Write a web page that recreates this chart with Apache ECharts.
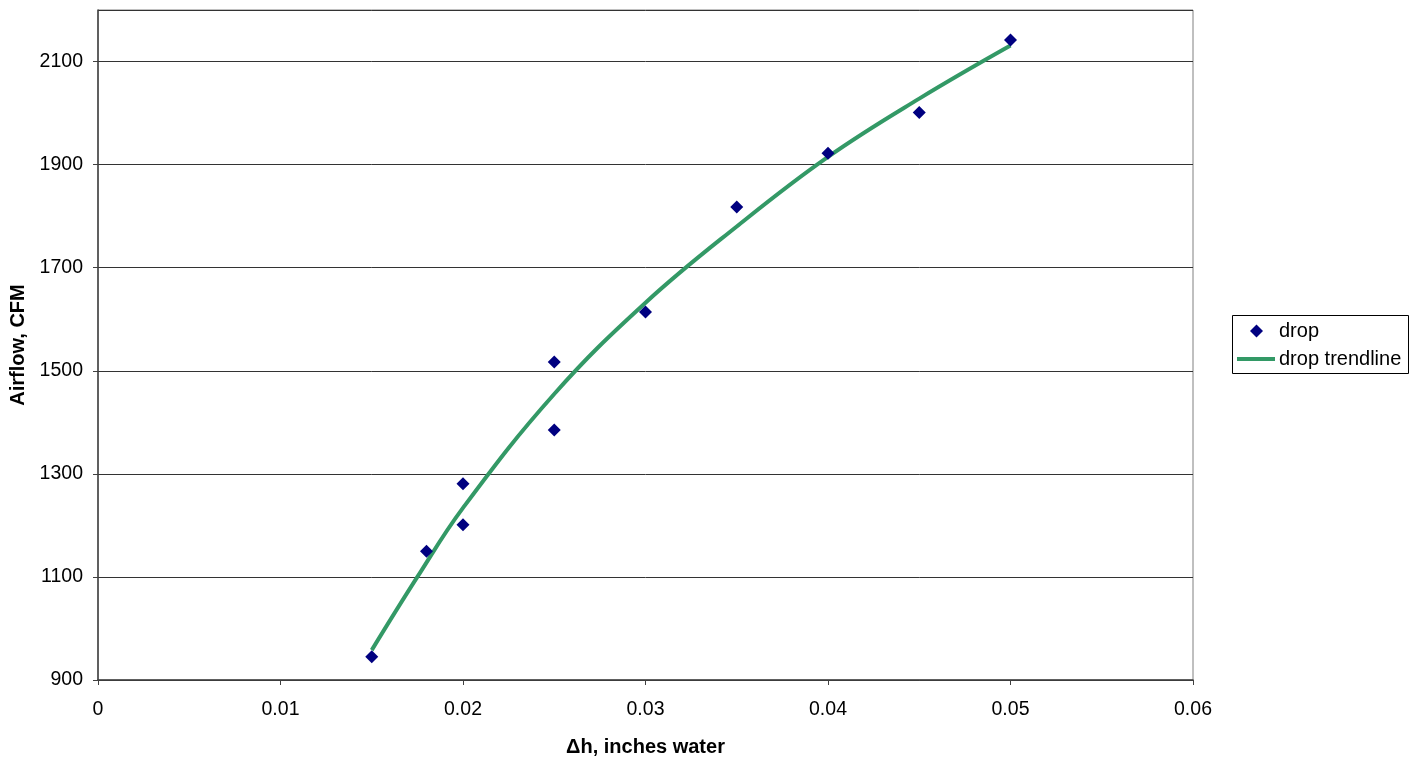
<!DOCTYPE html>
<html>
<head>
<meta charset="utf-8">
<script src="https://cdn.jsdelivr.net/npm/echarts@6/dist/echarts.min.js"></script>
<style>html,body{margin:0;padding:0;background:#fff}#c{width:1418px;height:763px}</style>
</head>
<body>
<div id="c"></div>
<script>
const dropX = [0.015, 0.018, 0.02, 0.02, 0.025, 0.025, 0.03, 0.035, 0.04, 0.045, 0.05];
const dropY = [945, 1150, 1281, 1201, 1517, 1385, 1614, 1818, 1922, 2001, 2142];
const trendX = [0.015, 0.0175, 0.02, 0.025, 0.03, 0.035, 0.04, 0.045, 0.05];
const trendY = [958, 1100, 1234, 1455, 1632, 1780, 1915, 2028, 2131];
const xTicks = [0, 0.01, 0.02, 0.03, 0.04, 0.05, 0.06];
const yTicks = [900, 1100, 1300, 1500, 1700, 1900, 2100];

const font = 'Liberation Sans, Arial, sans-serif';
const chart = echarts.init(document.getElementById('c'));
chart.setOption({
  animation: false,
  backgroundColor: '#fff',
  grid: {left: 98, right: 225, top: 10, bottom: 83, show: true, borderColor: '#808080', borderWidth: 1},
  xAxis: {
    type: 'value', min: 0, max: 0.06, interval: 0.01,
    name: 'Δh, inches water', nameLocation: 'middle', nameGap: 57,
    nameTextStyle: {fontFamily: font, fontSize: 20, fontWeight: 'bold', color: '#000'},
    axisLine: {show: true, lineStyle: {color: '#404040', width: 1.5}},
    axisTick: {show: true, length: 5, lineStyle: {color: '#404040'}},
    axisLabel: {fontFamily: font, fontSize: 19.5, color: '#000', margin: 20,
      formatter: v => { const t = xTicks.find(a => Math.abs(a - v) < 1e-9); return t === undefined ? '' : String(t); }},
    splitLine: {show: false}
  },
  yAxis: {
    type: 'value', min: 900, max: 2200, interval: 200,
    name: 'Airflow, CFM', nameLocation: 'middle', nameGap: 67,
    nameTextStyle: {fontFamily: font, fontSize: 20, fontWeight: 'bold', color: '#000'},
    axisLine: {show: true, lineStyle: {color: '#404040', width: 1.5}},
    axisTick: {show: true, length: 5, lineStyle: {color: '#404040'}},
    axisLabel: {fontFamily: font, fontSize: 19.5, color: '#000', margin: 15, showMaxLabel: false,
      formatter: v => yTicks.includes(v) ? String(v) : ''},
    splitLine: {show: true, lineStyle: {color: '#333', width: 1}}
  },
  graphic: [{
    type: 'rect', shape: {x: 1232.5, y: 315.5, width: 176, height: 58},
    style: {fill: 'none', stroke: '#000', lineWidth: 1}, z: 10
  }],
  legend: [
    {
      orient: 'vertical', left: 1250, top: 321, padding: 0,
      itemWidth: 13, itemHeight: 13,
      textStyle: {fontFamily: font, fontSize: 20, color: '#000', padding: [0, 0, 0, 11]},
      data: [{name: 'drop', icon: 'diamond', itemStyle: {color: '#000080', opacity: 1}}]
    },
    {
      orient: 'vertical', left: 1237, top: 349, padding: 0,
      itemWidth: 38, itemHeight: 4,
      textStyle: {fontFamily: font, fontSize: 20, color: '#000', padding: [0, 0, 0, -1]},
      data: [{name: 'drop trendline', icon: 'rect', itemStyle: {color: '#339966'}}]
    }
  ],
  series: [
    {
      name: 'drop', type: 'scatter', symbol: 'diamond', symbolSize: 13,
      itemStyle: {color: '#000080', opacity: 1},
      data: dropX.map((x, i) => [x, dropY[i]]), z: 3
    },
    {
      name: 'drop trendline', type: 'line', smooth: 0.4, showSymbol: false, symbol: 'none',
      lineStyle: {color: '#339966', width: 4}, itemStyle: {color: '#339966'},
      data: trendX.map((x, i) => [x, trendY[i]]), z: 2
    }
  ]
});
</script>
</body>
</html>
